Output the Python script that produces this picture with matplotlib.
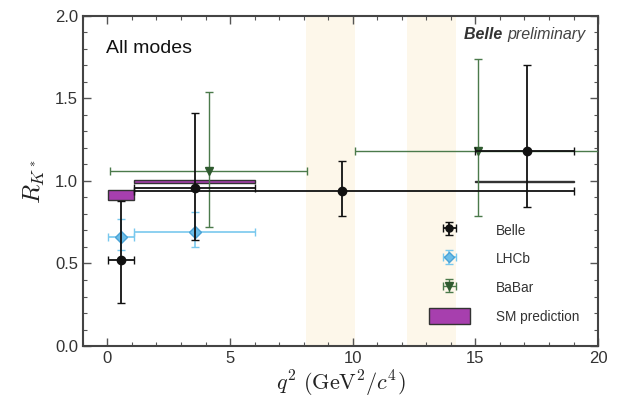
import matplotlib
matplotlib.use("Agg")
import matplotlib.pyplot as plt
from matplotlib.patches import Rectangle
import numpy as np

plt.rcParams["font.family"] = ["Liberation Sans", "DejaVu Sans"]
plt.rcParams["mathtext.fontset"] = "cm"

# Belle (all modes)
belle_lo = [0.045, 1.1, 1.1, 15.0]
belle_hi = [1.1, 6.0, 19.0, 19.0]
belle_x = [0.56, 3.57, 9.55, 17.1]
belle_y = [0.52, 0.96, 0.94, 1.18]
belle_up = [0.36, 0.45, 0.18, 0.52]
belle_dn = [0.26, 0.32, 0.15, 0.34]

# LHCb
lhcb_lo = [0.045, 1.1]
lhcb_hi = [1.1, 6.0]
lhcb_x = [0.56, 3.57]
lhcb_y = [0.66, 0.69]
lhcb_up = [0.11, 0.12]
lhcb_dn = [0.08, 0.09]

# BaBar
babar_lo = [0.1, 10.11]
babar_hi = [8.12, 21.0]
babar_x = [4.14, 15.1]
babar_y = [1.06, 1.18]
babar_up = [0.48, 0.56]
babar_dn = [0.34, 0.39]

# SM prediction boxes
sm_lo = [0.045, 1.1, 15.0]
sm_hi = [1.1, 6.0, 19.0]
sm_ymin = [0.885, 0.99, 0.995]
sm_ymax = [0.945, 1.005, 1.0]

# charmonium vetoes
veto_lo = [8.1, 12.2]
veto_hi = [10.1, 14.2]


def xerrs(x, lo, hi):
    x = np.array(x)
    return [x - np.array(lo), np.array(hi) - x]


fig = plt.figure(figsize=(6.23, 4.09), dpi=100)
ax = fig.add_axes([0.133, 0.154, 0.827, 0.807])

for a, b in zip(veto_lo, veto_hi):
    ax.axvspan(a, b, color="#fdf7ea", zorder=0, lw=0)

for a, b, y0, y1 in zip(sm_lo, sm_hi, sm_ymin, sm_ymax):
    ax.add_patch(Rectangle((a, y0), b - a, y1 - y0, facecolor="#a73fae",
                           edgecolor="#333333", lw=1.0, zorder=2))

babar = ax.errorbar(babar_x, babar_y, xerr=xerrs(babar_x, babar_lo, babar_hi),
                    yerr=[babar_dn, babar_up], fmt="v", color="#4b7a4b",
                    mfc="#2f5a2f", mec="#2f5a2f", ms=6, lw=1.0, capsize=3, zorder=3)
lhcb = ax.errorbar(lhcb_x, lhcb_y, xerr=xerrs(lhcb_x, lhcb_lo, lhcb_hi),
                   yerr=[lhcb_dn, lhcb_up], fmt="D", color="#79c8ee",
                   mfc="#6cbde8", mec="#4aa3d6", ms=6, lw=1.2, capsize=3, zorder=4)
belle = ax.errorbar(belle_x, belle_y, xerr=xerrs(belle_x, belle_lo, belle_hi),
                    yerr=[belle_dn, belle_up], fmt="o", color="#111111",
                    ms=6, lw=1.3, capsize=3, zorder=5)

sm_handle = Rectangle((0, 0), 1, 1, facecolor="#a73fae", edgecolor="#333333", lw=1.0)

ax.legend([belle, lhcb, babar, sm_handle], ["Belle", "LHCb", "BaBar", "SM prediction"],
          loc="lower left", bbox_to_anchor=(0.648, 0.03), frameon=False,
          fontsize=9.8, labelspacing=0.95, handlelength=3.0, handleheight=1.4,
          handletextpad=1.9, labelcolor="#333333", markerscale=0.85)

ax.set_xlim(-1, 20)
ax.set_ylim(0, 2.0)
ax.set_xticks([0, 5, 10, 15, 20])
ax.set_xticks(np.arange(-1, 21, 1), minor=True)
ax.set_yticks([0.0, 0.5, 1.0, 1.5, 2.0])
ax.set_yticks(np.arange(0, 2.01, 0.1), minor=True)
ax.set_yticklabels(["0.0", "0.5", "1.0", "1.5", "2.0"])
ax.tick_params(which="both", direction="in", top=True, right=True, color="#555555",
               labelsize=12, labelcolor="#333333")
ax.tick_params(which="major", length=6, width=1)
ax.tick_params(which="minor", length=3, width=0.8)
for s in ax.spines.values():
    s.set_color("#444444")
    s.set_linewidth(1.5)

ax.set_xlabel(r"$q^2\ (\mathrm{GeV}^2/c^4)$", fontsize=16, color="#222222", labelpad=2)
ax.set_ylabel(r"$R_{K^*}$", fontsize=18, color="#222222", labelpad=6)

ax.text(0.045, 0.9, "All modes", transform=ax.transAxes, fontsize=14,
        color="#111111", ha="left", va="center")
prelim = ax.text(0.975, 0.945, "preliminary", transform=ax.transAxes, fontsize=11.5,
                 style="italic", color="#444444", ha="right", va="center")
ax.annotate("Belle ", xy=(0, 0), xycoords=prelim, fontsize=11.5, style="italic",
            weight="bold", color="#333333", ha="right", va="bottom")

fig.savefig("out.png", dpi=100)
